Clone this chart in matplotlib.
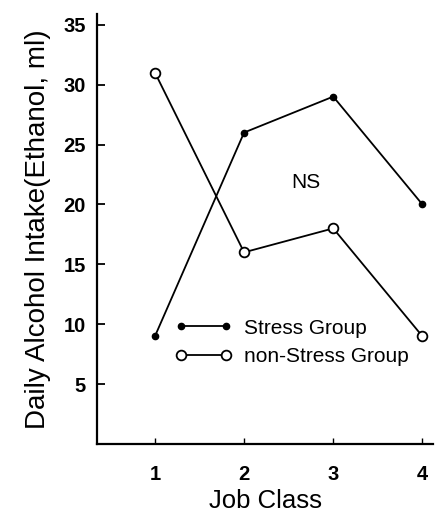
import matplotlib
matplotlib.use('Agg')
import matplotlib.pyplot as plt

plt.rcParams['font.family'] = ['Liberation Sans', 'DejaVu Sans']

# values
job_class = [1, 2, 3, 4]
stress = [9, 26, 29, 20]
non_stress = [31, 16, 18, 9]
y_ticks = [5, 10, 15, 20, 25, 30, 35]

fig = plt.figure(figsize=(4.41, 5.16), dpi=100)
ax = fig.add_axes([0.22, 0.1395, 0.762, 0.8335])

ax.plot(job_class, stress, color='black', lw=1.3, marker='o', ms=4.5,
        mfc='black', mec='black', label='Stress Group')
ax.plot(job_class, non_stress, color='black', lw=1.3, marker='o', ms=7,
        mfc='white', mec='black', mew=1.3, label='non-Stress Group')

ax.text(2.69, 21.8, 'NS', fontsize=15, ha='center', va='center')

ax.set_xlim(0.35, 4.12)
ax.set_ylim(0, 35.9)
ax.set_xticks(job_class)
ax.set_yticks(y_ticks)
ax.spines['top'].set_visible(False)
ax.spines['right'].set_visible(False)
ax.spines['left'].set_linewidth(1.6)
ax.spines['bottom'].set_linewidth(1.6)
ax.tick_params(axis='y', direction='in', length=6, width=1.3, labelsize=14.5, pad=8)
ax.tick_params(axis='x', direction='in', length=4, width=1, labelsize=14.5, pad=15)
for lab in ax.get_xticklabels() + ax.get_yticklabels():
    lab.set_fontweight('bold')

ax.set_xlabel('Job Class', fontsize=18.5, labelpad=4)
ax.set_ylabel('Daily Alcohol Intake(Ethanol, ml)', fontsize=20, labelpad=9)

ax.legend(loc='upper left', bbox_to_anchor=(0.2, 0.316), frameon=False,
          fontsize=15, numpoints=2, handlelength=2.75, handletextpad=0.6,
          labelspacing=0.46, borderpad=0)

fig.savefig('out.png', dpi=100)
